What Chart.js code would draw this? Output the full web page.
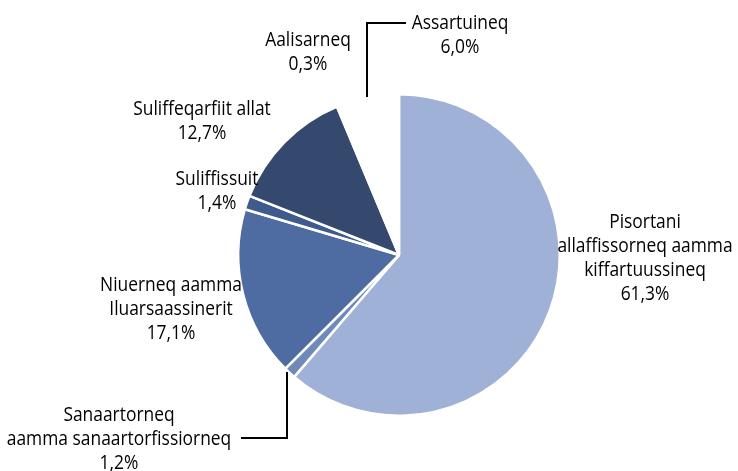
<!DOCTYPE html>
<html><head><meta charset="utf-8">
<script src="https://cdn.jsdelivr.net/npm/chart.js@4/dist/chart.umd.min.js"></script>
<style>html,body{margin:0;padding:0;background:#fff}#c{display:block}</style>
</head><body>
<canvas id="c" width="738" height="471"></canvas>
<script>
const categories = ["Pisortani allaffissorneq aamma kiffartuussineq","Sanaartorneq aamma sanaartorfissiorneq","Niuerneq aamma Iluarsaassinerit","Suliffissuit","Suliffeqarfiit allat","Aalisarneq","Assartuineq"];
const values = [61.3, 1.2, 17.1, 1.4, 12.7, 0.3, 6.0];
const valueLabels = ["61,3%","1,2%","17,1%","1,4%","12,7%","0,3%","6,0%"];
const labelLines = [["Pisortani","allaffissorneq aamma","kiffartuussineq"],["Sanaartorneq","aamma sanaartorfissiorneq"],["Niuerneq aamma","Iluarsaassinerit"],["Suliffissuit"],["Suliffeqarfiit allat"],["Aalisarneq"],["Assartuineq"]];
const colors = ["#9fb1d6","#6f89bb","#4e6ba2","#3f5a8c","#35486d","#ffffff","#ffffff"];
// label anchors: offset (px) of centre x / first baseline from pie centre
const labelPos = [[246,-27],[-280,166],[-228,36],[-182,-70],[-197,-140],[-91,-209],[61,-226]];
const LH = 24;
const SX = 0.87; // horizontal condensing to mimic the narrow original typeface

const labelPlugin = {
  id:'labels',
  afterDatasetsDraw(chart){
    const ctx = chart.ctx;
    const arc = chart.getDatasetMeta(0).data[0];
    const cx = arc.x, cy = arc.y;
    ctx.save();
    ctx.font = '20px "Open Sans", sans-serif';
    ctx.fillStyle = '#000';
    ctx.textAlign = 'center';
    ctx.textBaseline = 'alphabetic';
    labelLines.forEach((lines,i)=>{
      const all = lines.concat([valueLabels[i]]);
      const x = cx + labelPos[i][0];
      const y0 = cy + labelPos[i][1];
      all.forEach((t,k)=>{
        ctx.save();
        ctx.translate(x, y0 + k*LH);
        ctx.scale(SX, 1);
        ctx.fillText(t, 0, 0);
        ctx.restore();
      });
    });
    // leader lines
    ctx.strokeStyle = '#000';
    ctx.lineWidth = 2;
    ctx.beginPath();
    ctx.moveTo(cx - 32, cy - 158);
    ctx.lineTo(cx - 32, cy - 232);
    ctx.lineTo(cx + 7, cy - 232);
    ctx.moveTo(cx - 112, cy + 117);
    ctx.lineTo(cx - 112, cy + 183);
    ctx.lineTo(cx - 158, cy + 183);
    ctx.stroke();
    ctx.restore();
  }
};

new Chart(document.getElementById('c'), {
  type:'pie',
  data:{labels:categories, datasets:[{data:values, backgroundColor:colors, borderColor:'#ffffff', borderWidth:2.5}]},
  options:{
    responsive:false, animation:false,
    layout:{padding:{left:237,right:177,top:93,bottom:54}},
    plugins:{legend:{display:false},tooltip:{enabled:false}}
  },
  plugins:[labelPlugin]
});
</script>
</body></html>
